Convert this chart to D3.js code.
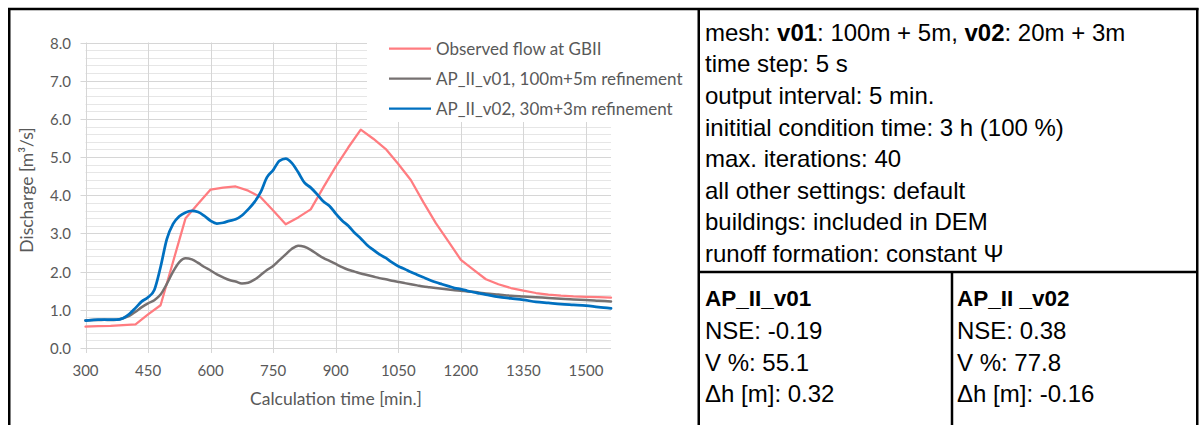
<!DOCTYPE html>
<html>
<head>
<meta charset="utf-8">
<script src="https://cdn.jsdelivr.net/npm/d3@7"></script>
<style>
  html, body { margin: 0; padding: 0; background: #fff; }
  svg { display: block; }
</style>
</head>
<body>
<svg id="chart" width="1200" height="425"></svg>
<script>
// ---------- DATA ----------
const obsTime = [300,330,360,390,420,450,480,510,540,570,600,630,660,690,720,750,780,810,840,870,900,930,960,990,1020,1050,1080,1110,1140,1170,1200,1230,1260,1290,1320,1350,1380,1410,1440,1470,1500,1530,1560];
const obsFlow = [0.56,0.57,0.58,0.60,0.62,0.88,1.12,2.26,3.40,3.78,4.15,4.20,4.23,4.12,3.95,3.60,3.24,3.42,3.63,4.20,4.75,5.25,5.72,5.48,5.21,4.82,4.40,3.82,3.27,2.79,2.31,2.05,1.80,1.67,1.57,1.50,1.44,1.40,1.37,1.35,1.34,1.33,1.32];

const simTime = [300,315,330,345,360,375,390,405,420,435,450,465,480,495,510,525,540,555,570,585,600,615,630,645,660,675,690,705,720,735,750,765,780,795,810,825,840,855,870,885,900,915,930,945,960,975,990,1005,1020,1035,1050,1065,1080,1095,1110,1125,1140,1155,1170,1185,1200,1215,1230,1245,1260,1290,1320,1350,1380,1410,1440,1470,1500,1530,1560];
const v01Flow = [0.72,0.73,0.73,0.74,0.73,0.74,0.78,0.84,0.95,1.07,1.17,1.25,1.40,1.68,2.00,2.25,2.35,2.32,2.23,2.12,2.03,1.93,1.85,1.78,1.74,1.69,1.71,1.79,1.91,2.04,2.15,2.30,2.45,2.60,2.68,2.65,2.57,2.46,2.36,2.28,2.20,2.12,2.05,2.00,1.95,1.91,1.87,1.83,1.80,1.76,1.73,1.70,1.67,1.64,1.61,1.59,1.57,1.55,1.53,1.51,1.50,1.48,1.47,1.45,1.43,1.40,1.37,1.35,1.33,1.31,1.29,1.27,1.26,1.24,1.22];
const v02Flow = [0.72,0.73,0.74,0.74,0.74,0.74,0.78,0.89,1.05,1.22,1.33,1.52,2.12,2.85,3.25,3.45,3.55,3.59,3.56,3.46,3.33,3.26,3.28,3.33,3.37,3.47,3.63,3.82,4.08,4.47,4.66,4.90,4.96,4.84,4.60,4.33,4.20,4.03,3.84,3.72,3.52,3.34,3.20,3.02,2.87,2.70,2.57,2.45,2.36,2.24,2.14,2.07,1.99,1.92,1.85,1.78,1.72,1.67,1.62,1.57,1.54,1.50,1.46,1.43,1.40,1.34,1.30,1.26,1.21,1.18,1.15,1.13,1.11,1.07,1.04];

const seriesNames = ["Observed flow at GBII", "AP_II_v01, 100m+5m refinement", "AP_II_v02, 30m+3m refinement"];
const seriesColors = ["#FF7C80", "#767171", "#0070C0"];

const xTicks = [300,450,600,750,900,1050,1200,1350,1500];
const yTicks = [0,1,2,3,4,5,6,7,8];
const yMinorTicks = d3.range(0, 8.0001, 0.2).filter(v => Math.abs(v - Math.round(v)) > 1e-6);

const xTitle = "Calculation time [min.]";
const yTitle = "Discharge [m³/s]";

const settingsLines = [
  [["mesh: ", false], ["v01", true], [": 100m + 5m, ", false], ["v02", true], [": 20m + 3m", false]],
  [["time step: 5 s", false]],
  [["output interval: 5 min.", false]],
  [["inititial condition time: 3 h (100 %)", false]],
  [["max. iterations: 40", false]],
  [["all other settings: default", false]],
  [["buildings: included in DEM", false]],
  [["runoff formation: constant Ψ", false]]
];
const statsV01 = ["AP_II_v01", "NSE: -0.19", "V %: 55.1", "Δh [m]: 0.32"];
const statsV02 = ["AP_II _v02", "NSE: 0.38", "V %: 77.8", "Δh [m]: -0.16"];

// ---------- CHART ----------
const svg = d3.select("#chart");
const chartFont = "Lato, 'Open Sans', sans-serif";
const tableFont = "'Liberation Sans', Arial, sans-serif";
const textGrey = "#595959";

const x = d3.scaleLinear().domain([300, 1560]).range([85.5, 611]);
const y = d3.scaleLinear().domain([0, 8]).range([348, 42.5]);
const px = v => Math.round(x(v)) + 0.5;
const py = v => Math.round(y(v)) + 0.5;

const plot = svg.append("g");

// minor horizontal gridlines
plot.selectAll("line.minor").data(yMinorTicks).join("line")
  .attr("x1", x(300)).attr("x2", x(1560))
  .attr("y1", d => py(d)).attr("y2", d => py(d))
  .attr("stroke", "#e6e6e6").attr("stroke-width", 1);

// major horizontal gridlines (with outward tick)
plot.selectAll("line.major").data(yTicks).join("line")
  .attr("x1", x(300) - 5).attr("x2", x(1560))
  .attr("y1", d => py(d)).attr("y2", d => py(d))
  .attr("stroke", "#d6d6d6").attr("stroke-width", 1);

// vertical gridlines (with outward tick)
plot.selectAll("line.vgrid").data(xTicks).join("line")
  .attr("x1", d => px(d)).attr("x2", d => px(d))
  .attr("y1", y(8)).attr("y2", y(0) + 5)
  .attr("stroke", "#d6d6d6").attr("stroke-width", 1);

// axis tick labels
plot.selectAll("text.ytick").data(yTicks).join("text")
  .attr("x", 71).attr("y", d => y(d))
  .attr("text-anchor", "end").attr("dominant-baseline", "central")
  .attr("font-family", chartFont).attr("font-size", 15).attr("fill", textGrey)
  .text(d => d3.format(".1f")(d));

plot.selectAll("text.xtick").data(xTicks).join("text")
  .attr("x", d => x(d)).attr("y", 370)
  .attr("text-anchor", "middle").attr("dominant-baseline", "central")
  .attr("font-family", chartFont).attr("font-size", 15).attr("fill", textGrey)
  .text(d => d);

// axis titles
svg.append("text")
  .attr("x", 336).attr("y", 398)
  .attr("text-anchor", "middle").attr("dominant-baseline", "central")
  .attr("font-family", chartFont).attr("font-size", 17.5).attr("fill", textGrey)
  .text(xTitle);

svg.append("text")
  .attr("transform", "translate(26.5,190) rotate(-90)")
  .attr("text-anchor", "middle").attr("dominant-baseline", "central")
  .attr("font-family", chartFont).attr("font-size", 17.5).attr("fill", textGrey)
  .text(yTitle);

// series lines
const linearLine = d3.line().x(d => x(d[0])).y(d => y(d[1]));
const smoothLine = d3.line().x(d => x(d[0])).y(d => y(d[1])).curve(d3.curveMonotoneX);

const seriesData = [
  { pts: obsTime.map((t, i) => [t, obsFlow[i]]), gen: linearLine, w: 2.25 },
  { pts: simTime.map((t, i) => [t, v01Flow[i]]), gen: smoothLine, w: 2.5 },
  { pts: simTime.map((t, i) => [t, v02Flow[i]]), gen: smoothLine, w: 2.75 }
];
seriesData.forEach((s, i) => {
  plot.append("path")
    .attr("d", s.gen(s.pts))
    .attr("fill", "none")
    .attr("stroke", seriesColors[i])
    .attr("stroke-width", s.w)
    .attr("stroke-linejoin", "round")
    .attr("stroke-linecap", "round");
});

// legend
const legend = svg.append("g");
legend.append("rect")
  .attr("x", 367).attr("y", 33).attr("width", 328).attr("height", 89)
  .attr("fill", "#fff");
const legendRows = [48.5, 78.5, 108.5];
seriesNames.forEach((name, i) => {
  legend.append("line")
    .attr("x1", 389).attr("x2", 431)
    .attr("y1", legendRows[i]).attr("y2", legendRows[i])
    .attr("stroke", seriesColors[i]).attr("stroke-width", 2.25);
  legend.append("text")
    .attr("x", 436).attr("y", legendRows[i])
    .attr("dominant-baseline", "central")
    .attr("font-family", chartFont).attr("font-size", 17).attr("fill", textGrey)
    .text(name);
});

// ---------- FRAME / TABLE ----------
const frame = svg.append("g").attr("stroke", "#000").attr("stroke-width", 2.5);
frame.append("line").attr("x1", 8).attr("x2", 1198.5).attr("y1", 9).attr("y2", 9);
frame.append("line").attr("x1", 9.25).attr("x2", 9.25).attr("y1", 8).attr("y2", 425);
frame.append("line").attr("x1", 1197.25).attr("x2", 1197.25).attr("y1", 8).attr("y2", 425);
frame.append("line").attr("x1", 698.75).attr("x2", 698.75).attr("y1", 8).attr("y2", 425);
frame.append("line").attr("x1", 698).attr("x2", 1198).attr("y1", 272).attr("y2", 272);
frame.append("line").attr("x1", 952).attr("x2", 952).attr("y1", 272).attr("y2", 425);

const tableFontSize = 24;
const settingsRowY = [31.5, 63, 95, 126.5, 158, 189.5, 221, 252.5];
settingsLines.forEach((parts, i) => {
  const t = svg.append("text")
    .attr("x", 705).attr("y", settingsRowY[i])
    .attr("dominant-baseline", "central")
    .attr("font-family", tableFont).attr("font-size", tableFontSize).attr("fill", "#000");
  parts.forEach(([str, bold]) => {
    t.append("tspan").attr("font-weight", bold ? "bold" : "normal").text(str);
  });
});

const statsRowY = [298.5, 330.5, 362, 393.5];
[[statsV01, 705], [statsV02, 957]].forEach(([rows, tx]) => {
  rows.forEach((str, i) => {
    svg.append("text")
      .attr("x", tx).attr("y", statsRowY[i])
      .attr("dominant-baseline", "central")
      .attr("font-family", tableFont).attr("font-size", i === 0 ? 22.5 : tableFontSize)
      .attr("font-weight", i === 0 ? "bold" : "normal").attr("fill", "#000")
      .text(str);
  });
});
</script>
</body>
</html>
